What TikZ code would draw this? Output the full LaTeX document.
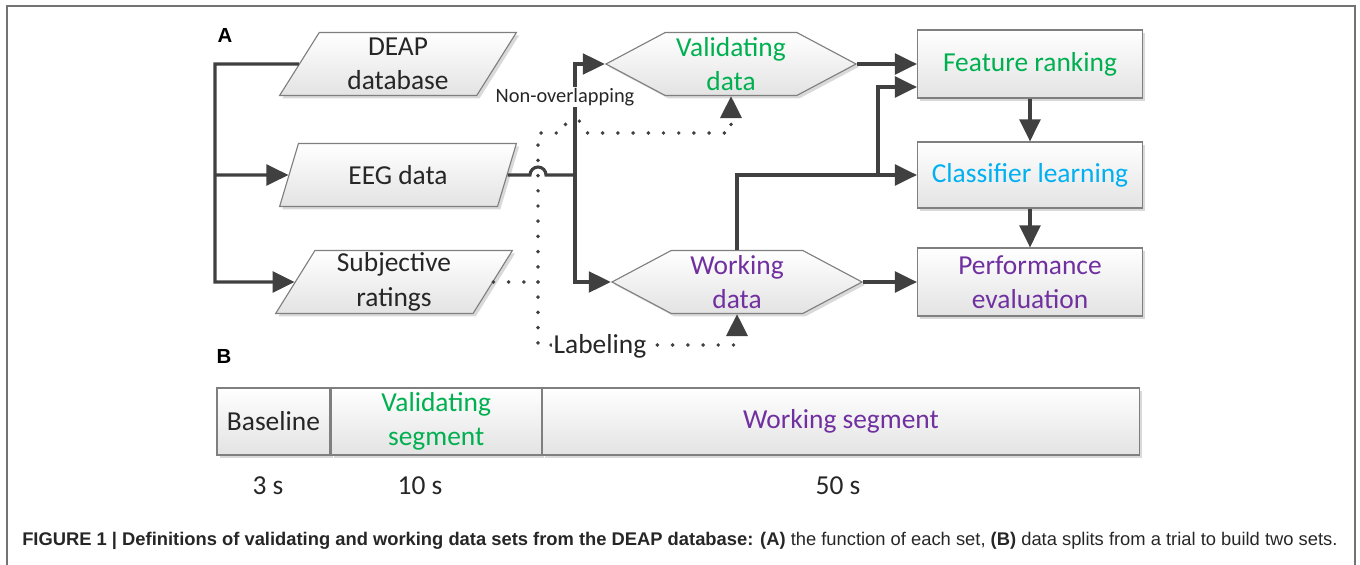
\documentclass[tikz,border=0pt]{standalone}
\usepackage{fontspec}
\setmainfont{Carlito}
\newfontfamily\capfont{Liberation Sans}
\usetikzlibrary{arrows.meta,calc,positioning,shapes.geometric,shapes.symbols,shadows}
\definecolor{linegray}{HTML}{404040}
\definecolor{boxgray}{HTML}{7F7F7F}
\definecolor{textgray}{HTML}{262626}
\definecolor{officegreen}{HTML}{00B050}
\definecolor{officeblue}{HTML}{00B0F0}
\definecolor{officepurple}{HTML}{7030A0}
\tikzset{
  shapebase/.style={
    draw=boxgray,
    line width=0.8pt,
    top color=white,
    bottom color=black!11,
    align=center,
    text=textgray,
    inner sep=0pt,
    font=\fontsize{19.5}{24.5}\selectfont,
    drop shadow={shadow xshift=0.07cm, shadow yshift=-0.07cm, opacity=0.15, fill=black}
  },
  dataset/.style={
    shapebase,
    trapezium,
    trapezium left angle=64,
    trapezium right angle=116,
    trapezium stretches=true,
    minimum width=5.925cm,
    minimum height=1.575cm
  },
  prep/.style={
    shapebase,
    signal,
    signal to=west and east,
    signal pointer angle=56,
    minimum width=6.25cm,
    minimum height=1.575cm
  },
  proc/.style={
    shapebase,
    rectangle,
    minimum width=5.625cm,
    minimum height=1.7cm
  },
  seg/.style={
    shapebase,
    rectangle,
    minimum height=1.675cm
  },
  plain/.style={
    text=textgray,
    inner sep=1pt,
    font=\fontsize{19.5}{24.5}\selectfont
  },
  note/.style={
    plain,
    fill=white
  },
  panel/.style={
    inner sep=0pt,
    font=\capfont\bfseries\fontsize{14.5}{16}\selectfont
  },
  link/.style={
    line width=2.2pt,
    draw=linegray
  },
  flow/.style={
    link,
    -{Triangle[length=0.55cm,width=0.52cm]}
  },
  dots/.style={
    line width=2.8pt,
    draw=linegray,
    line cap=round,
    dash pattern=on 0pt off 0.38cm
  },
  frame/.style={
    line width=1.4pt,
    draw=black!55
  }
}

\begin{document}
\begin{tikzpicture}[x=0.025cm, y=-0.025cm]
\useasboundingbox (0,0) rectangle (1360,565);
\draw[frame] (7,565) -- (7,6) -- (1355,6) -- (1355,565);

% part A: data sources
\node[panel] (pa) at (225,35) {A};
\node[dataset] (deap) at (398,64) {DEAP\\database};
\node[dataset] (eeg) at (398,175) {EEG data};
\node[dataset] (subj) at (394,282) {Subjective\\ratings};

% data sets and processing steps
\node[prep, text=officegreen] (val) at (731,64) {Validating\\data};
\node[prep, text=officepurple] (work) at (737,282) {Working\\data};
\node[proc, text=officegreen] (feat) at (1030,64) {Feature ranking};
\node[proc, text=officeblue, minimum height=1.65cm] (cls) at (1030,175) {Classifier learning};
\node[proc, text=officepurple] (perf) at (1030,282) {Performance\\evaluation};

\draw[flow] (deap.west) -- (215,64) |- (subj.west);
\draw[flow] (215,175) -- (eeg.west);

% EEG data split, hopping over the labeling line
\draw[link] (eeg.east) -- (530,175) arc[start angle=180, end angle=0, radius=0.2cm] -- (575,175);
\draw[flow] (575,175) |- (val.west);
\draw[flow] (575,175) |- (work.west);

% labels from the ratings
\draw[dots] (subj.east) -- (538,282);
\draw[dots, -{Triangle[length=0.55cm,width=0.52cm]}] (538,282) -- (538,133) -- (562,133)
  arc[start angle=180, end angle=0, radius=0.32cm] -| (val.south);
\draw[dots, -{Triangle[length=0.55cm,width=0.52cm]}] (538,282) -- (538,345) -| (work.south);
\node[note, font=\fontsize{14.5}{16}\selectfont] (nonov) at (565,97) {Non-overlapping};
\node[note] (lbl) at (600,346) {Labeling};

\draw[flow] (val.east) -- (feat.west);
\draw[flow] (work.north) |- (cls.west);
\draw[flow] (878,175) |- (feat.west |- 0,87);
\draw[flow] (feat.south) -- (cls.north);
\draw[flow] (cls.south) -- (perf.north);
\draw[flow] (work.east) -- (perf.west);

% part B: one trial
\node[panel] (pb) at (224,356) {B};
\node[seg, minimum width=2.825cm] (bsl) at (273.5,421.5) {Baseline};
\node[seg, minimum width=5.25cm, right=0pt of bsl, text=officegreen] (vseg) {Validating\\segment};
\node[seg, minimum width=14.925cm, right=0pt of vseg, text=officepurple] (wseg) {Working segment};
\node[plain] (t1) at (268,486) {3 s};
\node[plain] (t2) at (420,486) {10 s};
\node[plain] (t3) at (838,486) {50 s};

\node[anchor=west, inner sep=0pt, text=black!85, font=\capfont\fontsize{13.05}{15}\selectfont] (cap) at (22,541)
  {\textbf{FIGURE 1 | Definitions of validating and working data sets from the DEAP database: (A)} the function of each set, \textbf{(B)} data splits from a trial to build two sets.};
\end{tikzpicture}
\end{document}
